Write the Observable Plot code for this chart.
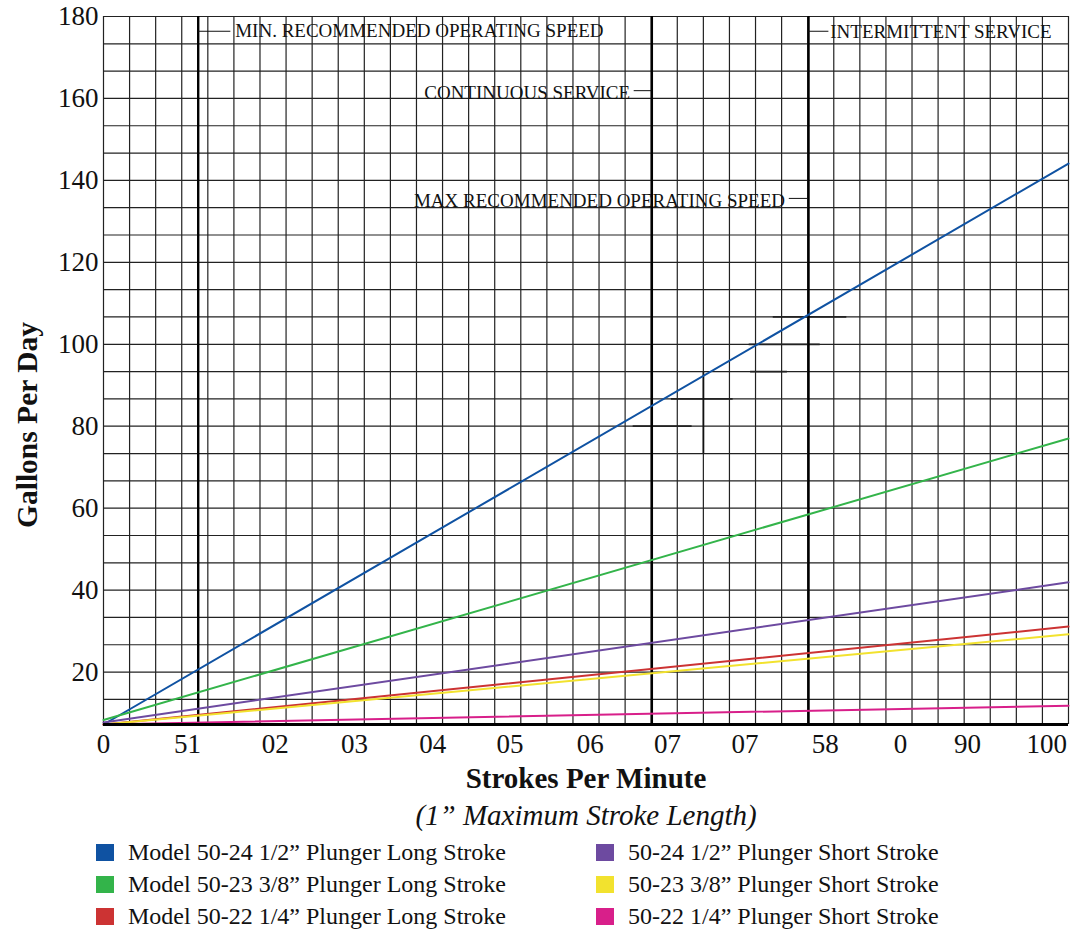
<!DOCTYPE html>
<html>
<head>
<meta charset="utf-8">
<script src="https://cdn.jsdelivr.net/npm/d3@7"></script>
<script src="https://cdn.jsdelivr.net/npm/@observablehq/plot@0.6"></script>
<style>
  html, body { margin: 0; padding: 0; background: #fff; }
  #wrap { position: relative; width: 1076px; height: 932px; font-family: "Liberation Serif", serif; }
  .leg { position: absolute; display: flex; align-items: center; font-size: 24px; color: #111; white-space: nowrap; }
  .sw { width: 18px; height: 17px; margin-right: 14px; }
  #ytitle { position: absolute; left: 28px; top: 425px; transform: translate(-50%, -50%) rotate(-90deg);
            font-size: 29.5px; font-weight: bold; color: #111; white-space: nowrap; line-height: 1; }
</style>
</head>
<body>
<div id="wrap"><div id="chart"></div><div id="ytitle">Gallons Per Day</div></div>
<script>
// ---- data ----
const seriesNames = [
  "Model 50-24 1/2” Plunger Long Stroke",
  "Model 50-23 3/8” Plunger Long Stroke",
  "Model 50-22 1/4” Plunger Long Stroke",
  "50-24 1/2” Plunger Short Stroke",
  "50-23 3/8” Plunger Short Stroke",
  "50-22 1/4” Plunger Short Stroke"
];
const seriesColors = ["#0f52a2", "#33b44a", "#cc3333", "#6d4aa0", "#f2e22e", "#d81f8a"];
const strokesPerMinute = [0, 102.3];
const gpdBlue    = [7.2, 144.1];
const gpdGreen   = [8.3, 77.0];
const gpdRed     = [7.2, 31.1];
const gpdPurple  = [7.7, 41.9];
const gpdYellow  = [7.2, 29.2];
const gpdMagenta = [7.2, 11.8];
const seriesValues = [gpdBlue, gpdGreen, gpdRed, gpdPurple, gpdYellow, gpdMagenta];

const xTickPos    = [0, 8.9, 18.2, 26.6, 34.9, 43.1, 51.6, 59.8, 68.0, 76.5, 84.5, 91.6, 100];
const xTickLabels = ["0", "51", "02", "03", "04", "05", "06", "07", "07", "58", "0", "90", "100"];
const yTicks = [20, 40, 60, 80, 100, 120, 140, 160, 180];

const xDomain = [0, 102.3];
const yDomain = [7.2, 180];

// operating speed limits (strokes per minute)
const speedLimits = [10.04, 58.13, 74.74];
const annotations = [
  {text: "MIN. RECOMMENDED OPERATING SPEED", x: 13.96, y: 176.6, anchor: "start"},
  {text: "CONTINUOUS SERVICE", x: 55.83, y: 161.45, anchor: "end"},
  {text: "MAX RECOMMENDED OPERATING SPEED", x: 72.25, y: 135.1, anchor: "end"},
  {text: "INTERMITTENT SERVICE", x: 77.04, y: 176.3, anchor: "start"}
];
const leaders = [
  {y: 176.4, x1: 10.04, x2: 13.5},
  {y: 161.9, x1: 56.26, x2: 58.13},
  {y: 135.6, x1: 72.7, x2: 74.74},
  {y: 176.4, x1: 74.74, x2: 76.9}
];
// darker stray grid segments in the source artwork
const straySegsH = [
  {y: 106.67, x1: 71.0, x2: 78.8},
  {y: 100, x1: 68.45, x2: 75.98},
  {y: 93.33, x1: 68.6, x2: 72.5},
  {y: 86.67, x1: 60.2, x2: 66.75},
  {y: 80, x1: 56.15, x2: 62.4}
];
const straySegsV = [{x: 63.6, y1: 73.3, y2: 93.1}];

// ---- build ----
const lineData = seriesNames.flatMap((name, i) =>
  strokesPerMinute.map((x, j) => ({series: name, x, y: seriesValues[i][j]})));
const gridX = d3.range(0, 38).map(k => k * xDomain[1] / 37);
const gridY = d3.range(2, 28).map(k => k * 20 / 3);
const tickMap = new Map(xTickPos.map((d, i) => [d, xTickLabels[i]]));

const annoStyle = {x: "x", y: "y", text: "text", fontSize: 19, fill: "#111", lineAnchor: "middle"};

const chart = Plot.plot({
  width: 1076,
  height: 835,
  marginLeft: 103,
  marginRight: 8,
  marginTop: 16,
  marginBottom: 111,
  style: {fontFamily: "Liberation Serif", background: "white", color: "#111"},
  x: {domain: xDomain},
  y: {domain: yDomain},
  color: {domain: seriesNames, range: seriesColors},
  marks: [
    Plot.ruleX(gridX, {stroke: "#222", strokeWidth: 1.2}),
    Plot.ruleY(gridY, {stroke: "#222", strokeWidth: 1.2}),
    Plot.ruleY(straySegsH, {y: "y", x1: "x1", x2: "x2", stroke: "#222", strokeWidth: 1.7}),
    Plot.ruleX(straySegsV, {x: "x", y1: "y1", y2: "y2", stroke: "#111", strokeWidth: 1.7}),
    Plot.ruleX(speedLimits, {stroke: "#000", strokeWidth: 2.4}),
    Plot.ruleY(leaders, {y: "y", x1: "x1", x2: "x2", stroke: "#111", strokeWidth: 1}),
    Plot.text(annotations, {...annoStyle, filter: d => d.anchor === "start", textAnchor: "start"}),
    Plot.text(annotations, {...annoStyle, filter: d => d.anchor === "end", textAnchor: "end"}),
    Plot.line(lineData, {x: "x", y: "y", z: "series", stroke: "series", strokeWidth: 2}),
    Plot.ruleY([yDomain[0]], {stroke: "#000", strokeWidth: 3}),
    Plot.axisY({ticks: yTicks, tickSize: 0, tickPadding: 5, fontSize: 27, label: null}),
    Plot.axisX({ticks: xTickPos, tickFormat: d => tickMap.get(d), tickSize: 0, tickPadding: 9, fontSize: 27, label: null}),
    Plot.text(["Strokes Per Minute"], {frameAnchor: "bottom", dy: 54, fontSize: 29, fontWeight: "bold", fill: "#111", lineAnchor: "middle"}),
    Plot.text(["(1” Maximum Stroke Length)"], {frameAnchor: "bottom", dy: 91, fontSize: 29, fontStyle: "italic", fill: "#111", lineAnchor: "middle"})
  ]
});
document.getElementById("chart").appendChild(chart);

// ---- legend ----
const wrap = document.getElementById("wrap");
const legCols = [96, 596];
const legRows = [852.5, 884.3, 916];
seriesNames.forEach((name, i) => {
  const col = Math.floor(i / 3), row = i % 3;
  const el = document.createElement("div");
  el.className = "leg";
  el.style.left = legCols[col] + "px";
  el.style.top = (legRows[row] - 15) + "px";
  el.style.height = "30px";
  const sw = document.createElement("span");
  sw.className = "sw";
  sw.style.background = seriesColors[i];
  const tx = document.createElement("span");
  tx.textContent = name;
  el.appendChild(sw); el.appendChild(tx);
  wrap.appendChild(el);
});
</script>
</body>
</html>
